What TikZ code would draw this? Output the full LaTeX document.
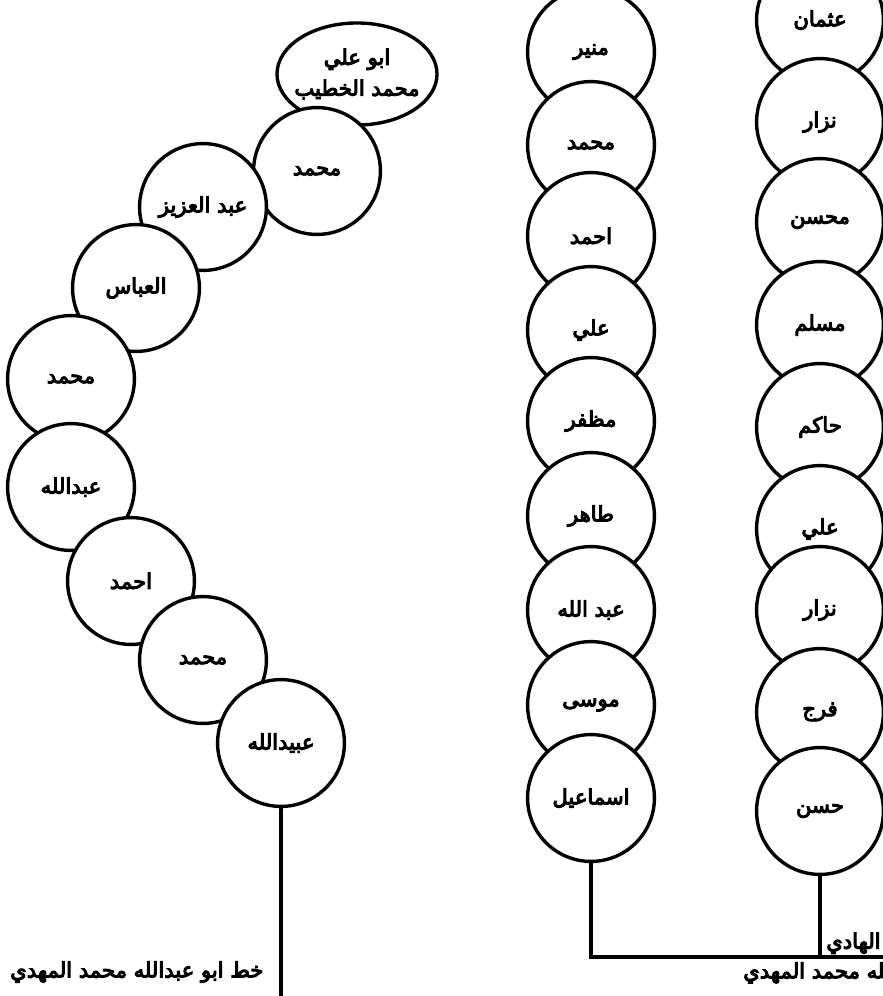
\documentclass[tikz,border=0pt]{standalone}
\usepackage{fontspec}
\usetikzlibrary{shapes.geometric}
\TeXXeTstate=1
\newfontfamily\arabicfont[Script=Arabic,BoldFont={DejaVu Sans},BoldFeatures={FakeBold=5}]{DejaVu Sans}
\newcommand{\artx}[1]{{\arabicfont\bfseries\beginR #1\endR}}

\begin{document}
\begin{tikzpicture}[x=0.025cm,y=-0.025cm,
  bead/.style={circle,draw,fill=white,line width=2.4pt,minimum size=3.17cm,inner sep=0pt,
    font=\fontsize{15}{22}\selectfont},
  stem/.style={line width=2.4pt},
  title/.style={font=\fontsize{15}{20}\selectfont,inner sep=0pt}]
 \useasboundingbox (0,0) rectangle (883,996);
 \begin{scope}
  \node[bead,ellipse,minimum width=4cm,minimum height=2.55cm,inner xsep=-0.5cm,inner ysep=-0.3cm,align=center] (khatib) at (357,74) {\artx{ابو علي}\\\artx{محمد الخطيب}};
  \node[bead] (muhL1) at (317,171) {\artx{محمد}};
  \node[bead] (abdalaziz) at (203,207) {\artx{عبد العزيز}};
  \node[bead] (abbas) at (136,288) {\artx{العباس}};
  \node[bead] (muhL2) at (71,379) {\artx{محمد}};
  \node[bead] (abdallahL) at (71,487) {\artx{عبدالله}};
  \node[bead] (ahmL) at (131,581) {\artx{احمد}};
  \node[bead] (muhL3) at (203,660) {\artx{محمد}};
  \node[bead] (ubaidallah) at (281,743) {\artx{عبيدالله}};
  \coordinate (lbot) at (281,1000);
  \draw[stem] (ubaidallah.south) -- (lbot);
  \node[title,anchor=west] (khattitle) at (10,972) {\artx{خط ابو عبدالله محمد المهدي}};
 \end{scope}
 \begin{scope}
  \node[bead] (munir) at (591,52) {\artx{منير}};
  \node[bead] (muhA) at (591,145) {\artx{محمد}};
  \node[bead] (ahmA) at (591,236) {\artx{احمد}};
  \node[bead] (aliA) at (591,330) {\artx{علي}};
  \node[bead] (muzaffar) at (591,421) {\artx{مظفر}};
  \node[bead] (tahir) at (591,516) {\artx{طاهر}};
  \node[bead] (abdallahA) at (591,610) {\artx{عبد الله}};
  \node[bead] (musa) at (591,705) {\artx{موسى}};
  \node[bead] (ismail) at (591,798) {\artx{اسماعيل}};
 \end{scope}
 \begin{scope}
  \node[bead] (uthman) at (820,20) {\artx{عثمان}};
  \node[bead] (nizarA) at (820,122) {\artx{نزار}};
  \node[bead] (muhsin) at (820,222) {\artx{محسن}};
  \node[bead] (muslim) at (820,325) {\artx{مسلم}};
  \node[bead] (hakim) at (820,427) {\artx{حاكم}};
  \node[bead] (aliB) at (820,529) {\artx{علي}};
  \node[bead] (nizarB) at (820,610) {\artx{نزار}};
  \node[bead] (faraj) at (820,712) {\artx{فرج}};
  \node[bead] (hasan) at (820,811) {\artx{حسن}};
 \end{scope}
 \coordinate (corner) at (591,957);
 \coordinate (redge) at (895,957);
 \draw[stem] (ismail.south) -- (corner) -- (redge);
 \draw[stem] (hasan.south) -- (hasan.south |- corner);
 \node[title,anchor=south west] (hadi) at (826,954) {\artx{الهادي}};
 \node[title,anchor=north west] (mahdi) at (743,962) {\artx{عبدالله محمد المهدي}};
\end{tikzpicture}
\end{document}
